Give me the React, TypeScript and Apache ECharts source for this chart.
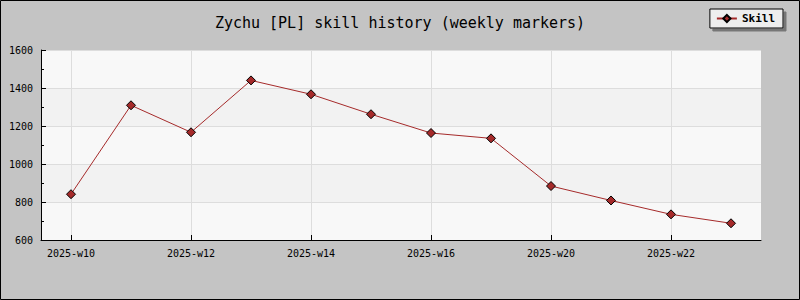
import React, { useEffect, useRef } from "react";
import * as echarts from "echarts";

const weeks = ["2025-w10", "2025-w11", "2025-w12", "2025-w13", "2025-w14", "2025-w15", "2025-w16", "2025-w18", "2025-w20", "2025-w21", "2025-w22", "2025-w23"];
const skill = [841, 1309, 1167, 1440, 1367, 1262, 1163, 1135, 884, 808, 735, 688];
const yTicks = { min: 600, max: 1600, interval: 200 };

const FONT = "'DejaVu Sans Mono', 'Liberation Mono', monospace";

export default function App() {
  const ref = useRef<HTMLDivElement>(null);
  useEffect(() => {
    const chart = echarts.init(ref.current!, null, { renderer: "svg" });
    chart.setOption({
      animation: false,
      backgroundColor: "#c4c4c4",
      title: {
        text: "Zychu [PL] skill history (weekly markers)",
        left: "center",
        top: 10,
        textStyle: { fontFamily: FONT, fontSize: 15, fontWeight: "normal", color: "#000" },
      },
      legend: {
        right: 17,
        top: 9,
        padding: [4, 8, 4, 6],
        itemWidth: 20,
        itemHeight: 9,
        itemGap: 6,
        backgroundColor: "#eeeeee",
        borderColor: "#000",
        borderWidth: 1,
        borderRadius: 0,
        shadowColor: "#777777",
        shadowOffsetX: 3,
        shadowOffsetY: 3,
        shadowBlur: 0,
        textStyle: { fontFamily: FONT, fontSize: 11, fontWeight: "bold", color: "#000" },
        data: ["Skill"],
      },
      graphic: [
        {
          type: "rect",
          shape: { x: 0.5, y: 0.5, width: 799, height: 299 },
          style: { fill: "none", stroke: "#000", lineWidth: 1 },
          silent: true,
          z: 100,
        },
      ],
      grid: { left: 41, top: 50, right: 39, bottom: 60, containLabel: false },
      xAxis: {
        type: "category",
        data: weeks,
        boundaryGap: true,
        axisLine: { show: true, lineStyle: { color: "#000", width: 1 } },
        axisTick: { show: true, inside: true, length: 5, interval: 1, alignWithLabel: true, lineStyle: { color: "#000" } },
        axisLabel: { interval: 1, fontFamily: FONT, fontSize: 10, color: "#000", margin: 8 },
        splitLine: { show: true, interval: 1, alignWithLabel: true, lineStyle: { color: "#dddddd", width: 1 } },
      },
      yAxis: {
        type: "value",
        min: yTicks.min,
        max: yTicks.max,
        interval: yTicks.interval,
        axisLine: { show: true, lineStyle: { color: "#000", width: 1 } },
        axisTick: { show: true, inside: true, length: 5, lineStyle: { color: "#000" } },
        minorTick: { show: true, splitNumber: 2, length: 3, lineStyle: { color: "#000" } },
        axisLabel: { fontFamily: FONT, fontSize: 10, color: "#000", margin: 8, formatter: (v: number) => String(v) },
        splitLine: { show: true, lineStyle: { color: "#dddddd", width: 1 } },
        splitArea: { show: true, areaStyle: { color: ["#f8f8f8", "#f2f2f2"] } },
      },
      series: [
        {
          name: "Skill",
          type: "line",
          data: skill,
          symbol: "diamond",
          symbolSize: 9,
          lineStyle: { color: "#a52a2a", width: 1 },
          itemStyle: { color: "#a52a2a", borderColor: "#000", borderWidth: 1 },
        },
      ],
    });
    return () => chart.dispose();
  }, []);
  return <div ref={ref} style={{ position: "fixed", left: 0, top: 0, width: 800, height: 300 }} />;
}
